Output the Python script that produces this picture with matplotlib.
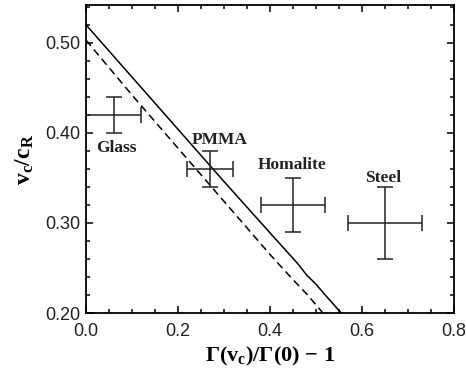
import numpy as np
import matplotlib
matplotlib.use("Agg")
import matplotlib.pyplot as plt
from matplotlib.ticker import MultipleLocator, FormatStrFormatter

plt.rcParams['mathtext.fontset'] = 'custom'
plt.rcParams['mathtext.rm'] = 'Liberation Serif'
plt.rcParams['mathtext.bf'] = 'Liberation Serif:bold'
plt.rcParams['mathtext.it'] = 'Liberation Serif:italic'

# theory curves
solid_x = [0.0, 0.10, 0.20, 0.30, 0.40, 0.46, 0.48, 0.50, 0.52, 0.555]
solid_y = [0.520, 0.462, 0.404, 0.346, 0.289, 0.255, 0.242, 0.232, 0.220, 0.200]
dash_x = [0.0, 0.10, 0.20, 0.30, 0.40, 0.45, 0.48, 0.515]
dash_y = [0.503, 0.442, 0.383, 0.324, 0.265, 0.237, 0.221, 0.200]

# experiments
names = ["Glass", "PMMA", "Homalite", "Steel"]
gx = [0.06, 0.27, 0.45, 0.65]
gx_err = [0.06, 0.05, 0.07, 0.08]
vy = [0.42, 0.36, 0.32, 0.30]
vy_err = [0.02, 0.02, 0.03, 0.04]
lab_x = [0.067, 0.29, 0.448, 0.645]
lab_y = [0.383, 0.392, 0.364, 0.350]

fig = plt.figure(figsize=(4.66, 3.75), dpi=100)
ax = fig.add_axes([86/466, 62/375, 368/466, 308/375])

ax.plot(solid_x, solid_y, color='black', lw=1.1)
ax.plot(dash_x, dash_y, color='black', lw=1.1, ls=(0, (5, 3)))
ax.errorbar(gx, vy, xerr=gx_err, yerr=vy_err, fmt='none', ecolor='#222222',
            elinewidth=1.1, capsize=6, capthick=1.1)
for n, x, y in zip(names, lab_x, lab_y):
    ax.text(x, y, n, ha='center', va='center', fontsize=12.5,
            family='Liberation Serif', weight='bold', color='#222222')

ax.set_xlim(0, 0.8)
ax.set_ylim(0.2, 0.542)
ax.xaxis.set_major_locator(MultipleLocator(0.2))
ax.xaxis.set_minor_locator(MultipleLocator(0.05))
ax.yaxis.set_major_locator(MultipleLocator(0.1))
ax.yaxis.set_minor_locator(MultipleLocator(0.02))
ax.xaxis.set_major_formatter(FormatStrFormatter('%.1f'))
ax.yaxis.set_major_formatter(FormatStrFormatter('%.2f'))
ax.tick_params(which='both', direction='in', top=True, right=True, width=1.1)
ax.tick_params(which='major', length=5, labelsize=13, pad=4, labelcolor='#222222')
ax.tick_params(axis='x', which='major', pad=7)
ax.tick_params(which='minor', length=3)
for lbl in ax.get_xticklabels() + ax.get_yticklabels():
    lbl.set_family('Liberation Sans')
for s in ax.spines.values():
    s.set_linewidth(1.3)

ax.set_xlabel(r'$\mathbf{\Gamma(v_c)/\Gamma(0)\,-\,1}$', fontsize=16, labelpad=4)
ax.set_ylabel(r'$\mathbf{v_c/c_R}$', fontsize=17, labelpad=7)

fig.savefig('out.png', dpi=100)
